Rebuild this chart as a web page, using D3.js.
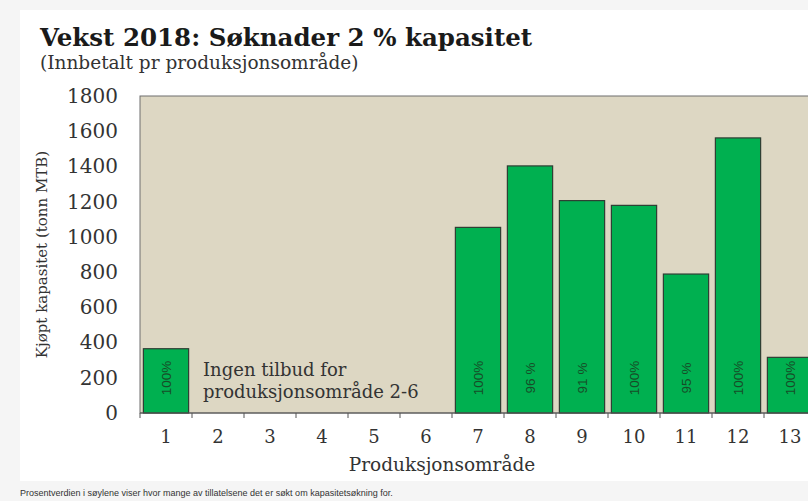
<!DOCTYPE html>
<html>
<head>
<meta charset="utf-8">
<script src="https://cdn.jsdelivr.net/npm/d3@7"></script>
<style>
  body { margin: 0; background: #f5f5f5; }
  svg { display: block; }
</style>
</head>
<body>
<svg id="chart" width="808" height="501"></svg>
<script>
// Data
var areas = [1, 2, 3, 4, 5, 6, 7, 8, 9, 10, 11, 12, 13];
var capacity = [365, null, null, null, null, null, 1054, 1403, 1206, 1179, 789, 1562, 316];
var shares = ['100%', '', '', '', '', '', '100%', '96 %', '91 %', '100%', '95 %', '100%', '100%'];
var yTicks = [0, 200, 400, 600, 800, 1000, 1200, 1400, 1600, 1800];

var serif = '"DejaVu Serif", serif',
    sans = '"Liberation Sans", Arial, sans-serif';

var svg = d3.select('#chart');

// white panel
svg.append('rect')
    .attr('x', 20).attr('y', 10)
    .attr('width', 788).attr('height', 471)
    .attr('fill', '#ffffff');

svg.append('text')
    .attr('x', 40).attr('y', 46)
    .attr('font-family', serif)
    .attr('font-weight', 'bold')
    .attr('font-size', 24.5)
    .attr('fill', '#1a1a1a')
    .text('Vekst 2018: Søknader 2 % kapasitet');

svg.append('text')
    .attr('x', 40).attr('y', 69)
    .attr('font-family', serif)
    .attr('font-size', 18.5)
    .attr('fill', '#333')
    .text('(Innbetalt pr produksjonsområde)');

var x = d3.scaleBand()
    .domain(areas)
    .range([140, 816])
    .paddingInner(0.13)
    .paddingOuter(0.065);

var y = d3.scaleLinear()
    .domain([0, 1800])
    .range([413, 96]);

// plot background
svg.append('rect')
    .attr('x', x.range()[0])
    .attr('y', y(1800))
    .attr('width', x.range()[1] - x.range()[0])
    .attr('height', y(0) - y(1800))
    .attr('fill', '#ddd7c3')
    .attr('stroke', '#6e6e6e')
    .attr('stroke-width', 1);

var data = areas.map(function(a, i) {
    return { area: a, value: capacity[i], share: shares[i] };
}).filter(function(d) { return d.value !== null; });

svg.selectAll('rect.bar')
    .data(data)
    .enter().append('rect')
    .attr('class', 'bar')
    .attr('x', function(d) { return x(d.area); })
    .attr('y', function(d) { return y(d.value); })
    .attr('width', x.bandwidth())
    .attr('height', function(d) { return y(0) - y(d.value); })
    .attr('fill', '#00b050')
    .attr('stroke', '#2e3e33')
    .attr('stroke-width', 1.2);

svg.selectAll('text.share')
    .data(data)
    .enter().append('text')
    .attr('class', 'share')
    .attr('transform', function(d) {
        return 'translate(' + (x(d.area) + x.bandwidth() / 2 + 4.5) + ',' + (y(0) - 35) + ') rotate(-90)';
    })
    .attr('text-anchor', 'middle')
    .attr('font-family', sans)
    .attr('font-size', 13.5)
    .attr('fill', '#174d28')
    .text(function(d) { return d.share; });

// y axis
var yAxis = svg.append('g')
    .attr('transform', 'translate(140,0)')
    .call(d3.axisLeft(y).tickValues(yTicks).tickFormat(d3.format('d')).tickSize(0).tickPadding(22));
yAxis.select('.domain').remove();
yAxis.selectAll('text')
    .attr('font-family', serif)
    .attr('font-size', 20)
    .attr('fill', '#333');

// x axis
var xAxis = svg.append('g')
    .attr('transform', 'translate(0,' + y(0) + ')')
    .call(d3.axisBottom(x).tickSize(0).tickPadding(17));
xAxis.select('.domain').remove();
xAxis.selectAll('text')
    .attr('font-family', serif)
    .attr('font-size', 18)
    .attr('fill', '#333');

svg.append('line')
    .attr('x1', x.range()[0]).attr('x2', x.range()[1])
    .attr('y1', y(0)).attr('y2', y(0))
    .attr('stroke', '#555').attr('stroke-width', 1.2);

var bounds = d3.range(areas.length + 1).map(function(i) {
    return x.range()[0] + i * x.step();
});
svg.selectAll('line.xtick')
    .data(bounds)
    .enter().append('line')
    .attr('class', 'xtick')
    .attr('x1', function(d) { return d; }).attr('x2', function(d) { return d; })
    .attr('y1', y(0)).attr('y2', y(0) + 5)
    .attr('stroke', '#555');

svg.append('text')
    .attr('x', 442).attr('y', 471)
    .attr('text-anchor', 'middle')
    .attr('font-family', serif)
    .attr('font-size', 18.5)
    .attr('fill', '#333')
    .text('Produksjonsområde');

svg.append('text')
    .attr('transform', 'translate(47,' + y(900) + ') rotate(-90)')
    .attr('text-anchor', 'middle')
    .attr('font-family', serif)
    .attr('font-size', 15)
    .attr('fill', '#333')
    .text('Kjøpt kapasitet (tonn MTB)');

var note = svg.append('text')
    .attr('font-family', serif)
    .attr('font-size', 18)
    .attr('fill', '#333');
note.append('tspan').attr('x', 203).attr('y', 376).text('Ingen tilbud for');
note.append('tspan').attr('x', 203).attr('y', 398).text('produksjonsområde 2-6');

svg.append('text')
    .attr('x', 20).attr('y', 496)
    .attr('font-family', sans)
    .attr('font-size', 9)
    .attr('fill', '#333')
    .text('Prosentverdien i søylene viser hvor mange av tillatelsene det er søkt om kapasitetsøkning for.');
</script>
</body>
</html>
